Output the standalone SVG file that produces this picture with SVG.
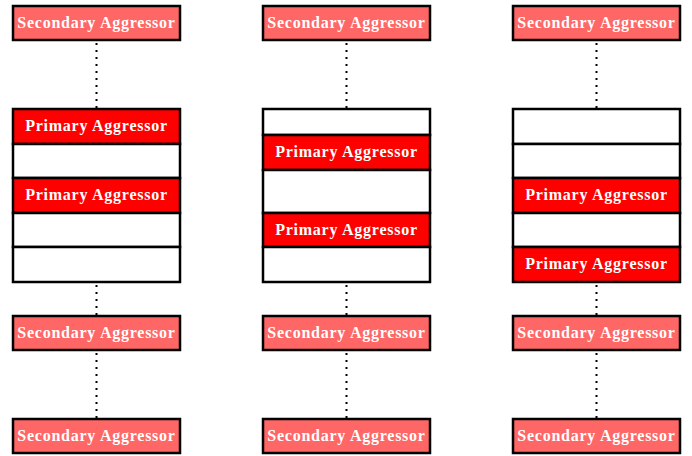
<svg xmlns="http://www.w3.org/2000/svg" width="692" height="456" viewBox="0 0 692 456">
<style>
.sec{fill:#FF6666;stroke:#000;stroke-width:2.5}
.pri{fill:#FF0000;stroke:#000;stroke-width:2.5}
.emp{fill:#FFFFFF;stroke:#000;stroke-width:2.5}
.t{font-family:"Liberation Serif","Times New Roman",serif;font-weight:bold;font-size:16px;fill:#FFFFFF;text-anchor:middle;letter-spacing:0.75px}
.dot{stroke:#000;stroke-width:2;stroke-dasharray:2 5;fill:none}
</style>
<g id="connectors">
<line class="dot" x1="96.5" y1="43" x2="96.5" y2="108"/>
<line class="dot" x1="96.5" y1="285" x2="96.5" y2="315"/>
<line class="dot" x1="96.5" y1="353" x2="96.5" y2="418"/>
<line class="dot" x1="346.5" y1="43" x2="346.5" y2="108"/>
<line class="dot" x1="346.5" y1="285" x2="346.5" y2="315"/>
<line class="dot" x1="346.5" y1="353" x2="346.5" y2="418"/>
<line class="dot" x1="596.5" y1="43" x2="596.5" y2="108"/>
<line class="dot" x1="596.5" y1="285" x2="596.5" y2="315"/>
<line class="dot" x1="596.5" y1="353" x2="596.5" y2="418"/>
</g>
<g id="sec1a"><rect class="sec" x="13" y="6" width="167" height="34"/><text class="t" x="96.5" y="27.5">Secondary Aggressor</text></g>
<g id="sec1b"><rect class="sec" x="13" y="316" width="167" height="34"/><text class="t" x="96.5" y="337.5">Secondary Aggressor</text></g>
<g id="sec1c"><rect class="sec" x="13" y="419" width="167" height="34"/><text class="t" x="96.5" y="440.5">Secondary Aggressor</text></g>
<g id="sec2a"><rect class="sec" x="263" y="6" width="167" height="34"/><text class="t" x="346.5" y="27.5">Secondary Aggressor</text></g>
<g id="sec2b"><rect class="sec" x="263" y="316" width="167" height="34"/><text class="t" x="346.5" y="337.5">Secondary Aggressor</text></g>
<g id="sec2c"><rect class="sec" x="263" y="419" width="167" height="34"/><text class="t" x="346.5" y="440.5">Secondary Aggressor</text></g>
<g id="sec3a"><rect class="sec" x="513" y="6" width="167" height="34"/><text class="t" x="596.5" y="27.5">Secondary Aggressor</text></g>
<g id="sec3b"><rect class="sec" x="513" y="316" width="167" height="34"/><text class="t" x="596.5" y="337.5">Secondary Aggressor</text></g>
<g id="sec3c"><rect class="sec" x="513" y="419" width="167" height="34"/><text class="t" x="596.5" y="440.5">Secondary Aggressor</text></g>
<g id="stack1">
<rect class="pri" x="13" y="109" width="167" height="35"/><text class="t" x="96.5" y="131">Primary Aggressor</text>
<rect class="emp" x="13" y="144" width="167" height="34"/>
<rect class="pri" x="13" y="178" width="167" height="35"/><text class="t" x="96.5" y="200">Primary Aggressor</text>
<rect class="emp" x="13" y="213" width="167" height="34"/>
<rect class="emp" x="13" y="247" width="167" height="35"/>
</g>
<g id="stack2">
<rect class="emp" x="263" y="109" width="167" height="26"/>
<rect class="pri" x="263" y="135" width="167" height="35"/><text class="t" x="346.5" y="157">Primary Aggressor</text>
<rect class="emp" x="263" y="170" width="167" height="43"/>
<rect class="pri" x="263" y="213" width="167" height="34"/><text class="t" x="346.5" y="234.5">Primary Aggressor</text>
<rect class="emp" x="263" y="247" width="167" height="35"/>
</g>
<g id="stack3">
<rect class="emp" x="513" y="109" width="167" height="35"/>
<rect class="emp" x="513" y="144" width="167" height="34"/>
<rect class="pri" x="513" y="178" width="167" height="35"/><text class="t" x="596.5" y="200">Primary Aggressor</text>
<rect class="emp" x="513" y="213" width="167" height="34"/>
<rect class="pri" x="513" y="247" width="167" height="35"/><text class="t" x="596.5" y="269">Primary Aggressor</text>
</g>
</svg>
